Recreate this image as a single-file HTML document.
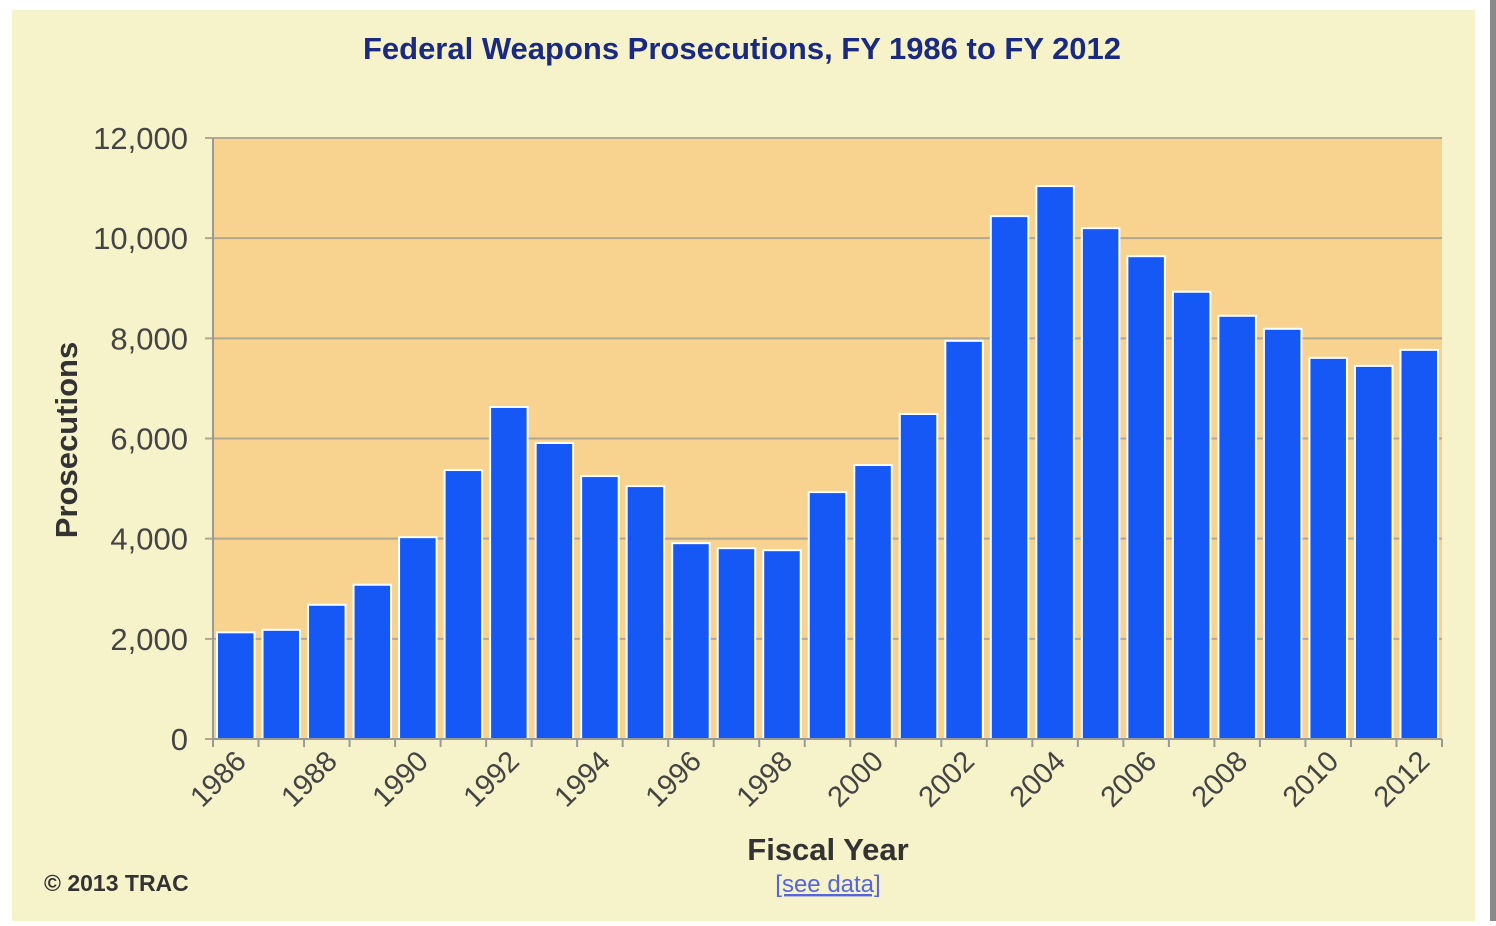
<!DOCTYPE html>
<html><head><meta charset="utf-8"><style>
body{margin:0;background:#fff;width:1496px;height:921px;overflow:hidden;font-family:"Liberation Sans",Arial,sans-serif}
</style></head><body>
<svg width="1496" height="921" id="c">
<rect x="0" y="0" width="1496" height="921" fill="#fff"/>
<rect x="12" y="10" width="1463" height="911" fill="#f6f3cb"/>
<rect x="1490" y="0" width="6" height="921" fill="#8a8a8a"/>
<text x="742" y="59" text-anchor="middle" font-size="31" font-weight="bold" fill="#1a2a80">Federal Weapons Prosecutions, FY 1986 to FY 2012</text>
<rect x="213" y="138" width="1229" height="601" fill="#f8d28f"/>
<g id="grid"></g><g id="bars"></g><g id="axes"></g>
<text transform="translate(77,440) rotate(-90)" text-anchor="middle" font-size="31" font-weight="bold" fill="#333">Prosecutions</text>
<text x="828" y="860" text-anchor="middle" font-size="31" font-weight="bold" fill="#333">Fiscal Year</text>
<text x="828" y="892" text-anchor="middle" font-size="24" fill="#5566dd" text-decoration="underline">[see data]</text>
<text x="44" y="891" font-size="23" font-weight="bold" fill="#333">© 2013 TRAC</text>
</svg>
<script>
const years=[1986,1987,1988,1989,1990,1991,1992,1993,1994,1995,1996,1997,1998,1999,2000,2001,2002,2003,2004,2005,2006,2007,2008,2009,2010,2011,2012];
const values=[2130,2180,2680,3080,4030,5370,6630,5910,5250,5050,3910,3810,3770,4930,5470,6490,7950,10440,11040,10200,9640,8930,8450,8190,7610,7450,7770];
const yTicks=[0,2000,4000,6000,8000,10000,12000];
const yTickLabels=["0","2,000","4,000","6,000","8,000","10,000","12,000"];
const NS="http://www.w3.org/2000/svg";
const X0=213,X1=1442,Y0=739,Y1=138,YMAX=12000;
const slot=(X1-X0)/years.length;
const y=v=>Y0-(v/YMAX)*(Y0-Y1);
const x=i=>X0+i*slot;
function mk(t,a,p){const e=document.createElementNS(NS,t);for(const k in a)e.setAttribute(k,a[k]);document.getElementById(p).appendChild(e);return e;}
yTicks.forEach((t,i)=>{
 const l=mk('line',{x1:X0-8,x2:X1,y1:y(t),y2:y(t),stroke:'#b0a890','stroke-width':2},'grid');
 
 
 const tx=mk('text',{x:X0-25,y:y(t)+11,'text-anchor':'end','font-size':31,fill:'#444'},'axes');
 tx.textContent=yTickLabels[i];
 
 
});
values.forEach((v,i)=>{
 const b=mk('rect',{x:x(i)+4,y:y(v),width:slot-8,height:Y0-y(v),fill:'#1558f5',stroke:'#fff','stroke-width':2},'bars');
 
 
});
const ax=mk('line',{x1:X0,x2:X0,y1:Y1,y2:Y0,stroke:'#999','stroke-width':2},'axes');


const bx=mk('line',{x1:X0,x2:X1,y1:Y0,y2:Y0,stroke:'#999','stroke-width':2},'axes');


for(let i=0;i<=years.length;i++){
 const t=mk('line',{x1:x(i),x2:x(i),y1:Y0,y2:Y0+8,stroke:'#999','stroke-width':2},'axes');
 
 
}
years.forEach((yr,i)=>{
 if(yr%2) return;
 const cx=x(i)+slot/2+12, cy=Y0+24;
 const tx=mk('text',{x:cx,y:cy,'text-anchor':'end','font-size':29,fill:'#444',transform:`rotate(-45 ${cx} ${cy})`},'axes');
 tx.textContent=yr;
 
 
});
</script>
</body></html>
